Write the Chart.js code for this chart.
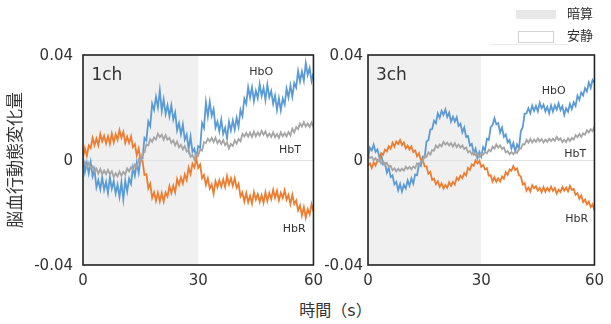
<!DOCTYPE html>
<html lang="ja">
<head>
<meta charset="utf-8">
<title>脳血行動態変化量</title>
<script src="https://cdn.jsdelivr.net/npm/chart.js@4.4.0/dist/chart.umd.min.js"></script>
<style>
	body { margin: 0; width: 611px; height: 324px; background: #fff; position: relative; overflow: hidden;
		font-family: 'DejaVu Sans', 'Noto Sans CJK JP', sans-serif; color: #333; }
	#c1 { position: absolute; left: 0; top: 0; }
	#c2 { position: absolute; left: 316px; top: 0; }
	.swatch { position: absolute; box-sizing: border-box; }
	.legend-text { position: absolute; left: 567px; font-size: 13px; line-height: 14px; }
	#xtitle { position: absolute; left: 275px; width: 121px; top: 302px; text-align: center; font-size: 16px; line-height: 18px; }
</style>
</head>
<body>
<canvas id="c1" width="330" height="300"></canvas>
<canvas id="c2" width="295" height="300"></canvas>

<div class="swatch" style="left:516px;top:10px;width:40px;height:9px;background:#e8e8e8"></div>
<div class="legend-text" style="top:7px">暗算</div>
<div class="swatch" style="left:518px;top:31px;width:36px;height:12px;border:1px solid #d4d4d4;background:#fff"></div>
<div class="legend-text" style="top:29px">安静</div>
<div class="swatch" style="left:490px;top:44px;width:78px;height:1px;background:#ececec"></div>
<div id="xtitle">時間（s）</div>

<script>
// time axis (s), sampled every 0.5 s
const times = [
	0,0.5,1,1.5,2,2.5,3,3.5,4,4.5,5,5.5,6,6.5,7,7.5,8,8.5,9,9.5,
	10,10.5,11,11.5,12,12.5,13,13.5,14,14.5,15,15.5,16,16.5,17,17.5,18,18.5,19,19.5,
	20,20.5,21,21.5,22,22.5,23,23.5,24,24.5,25,25.5,26,26.5,27,27.5,28,28.5,29,29.5,
	30,30.5,31,31.5,32,32.5,33,33.5,34,34.5,35,35.5,36,36.5,37,37.5,38,38.5,39,39.5,
	40,40.5,41,41.5,42,42.5,43,43.5,44,44.5,45,45.5,46,46.5,47,47.5,48,48.5,49,49.5,
	50,50.5,51,51.5,52,52.5,53,53.5,54,54.5,55,55.5,56,56.5,57,57.5,58,58.5,59,59.5,
	60
];

// values below are in units of 10^-3
const UNIT = 0.001;

// 1ch
const hbo1 = [
	1.1,-4.6,-1.1,-5.1,-0.8,-6.2,-3.6,-10.4,-7.7,-11.2,-6.6,-11.4,-8.3,-12.6,-6.6,-10.9,-8,-12.7,-9.4,-14.1,
	-8.5,-15,-7.9,-12,-7.1,-9.1,-2.8,-6,-1.1,-4.9,0.8,0.6,8.4,7.4,14.7,12.9,21.4,19.1,24,20.1,
	26.5,18.7,23.1,17.5,20.9,16.6,20.8,15.4,18.1,11.3,14,9.7,13.5,7.7,9.7,4.2,8.9,3.1,4.3,0.6,
	5.3,4.7,14.1,12.2,22,16.6,22.2,16.8,19.4,12.3,14.6,10.9,15.4,9.9,12.3,8.3,14.6,11.2,15,11.6,
	16.1,12.7,19.1,16.7,23.4,21.4,27.8,23.8,27.7,22.4,26.4,23.5,28.9,24.4,27.5,22.9,28.7,23.9,26.3,21.4,
	24.5,19.1,23.5,18.9,23.4,21.1,27.2,23.8,28.4,24.1,29.3,27.6,33.9,29.9,33.7,30.2,36.9,32.4,35,30.1,
	33.1
];
const hbr1 = [
	0.9,4.5,1.6,5.5,4.5,8.4,5.6,8.2,5.6,9.9,7.1,9.2,6.3,9,6.1,10,6.7,9.8,7.7,11.4,
	8.5,10.7,6.5,8.9,6.5,9,4.9,6,1.8,4.4,-0.2,-0.4,-5.7,-5.4,-10.8,-9,-14.4,-12.3,-15.6,-12.5,
	-15.8,-12.6,-15.8,-12.4,-13.9,-10,-12.6,-9.8,-12.3,-7.3,-9.5,-6.7,-9,-5.5,-7.6,-2.9,-5.4,-1.4,-2.8,0.4,
	-3,-1.7,-6.9,-5.7,-9.5,-6.9,-10.9,-9.3,-12.9,-8.1,-10.4,-7.7,-10.2,-7.4,-10.3,-6.1,-9.3,-6.9,-9.8,-6.9,
	-10.6,-9,-13.9,-12.4,-15.8,-12.6,-16.1,-13.7,-16.6,-12.2,-15.1,-13,-16,-13.4,-16.3,-12.3,-15.6,-12.6,-14.9,-11.4,
	-14.4,-11.7,-15.4,-12.5,-14.5,-11.5,-15.1,-13.3,-16.8,-13.2,-16.8,-15.4,-19.2,-17.3,-21.1,-17.9,-22,-18.7,-20.7,-16.9,
	-19.6
];
const hbt1 = [
	-1.5,-0.8,-2.8,-1.1,-3.1,-2.4,-4.3,-3.3,-5.2,-3.4,-5.4,-4,-5.4,-3.8,-5.4,-4.3,-6.5,-5.1,-6.2,-4.4,
	-6,-4.5,-5.6,-3.2,-4.3,-2.7,-3.7,-1.7,-2.7,0.3,-0.6,2.5,2.9,5.9,5.6,7.9,6.9,8.6,7.8,10,
	8.7,9.6,7.7,9.5,7.7,8.4,6.5,7.5,5.6,7.1,4.8,5.8,4.1,5.3,3.2,3.8,1.2,1.9,0.2,2.6,
	1.7,4,3.6,6.8,6.5,8.1,7.1,8.4,6.8,8.5,6.4,7.6,6.1,7.6,5.7,6.7,4.4,6.1,5.3,7.5,
	6.2,8,7.1,9.9,9,10.3,8.9,10.4,8.8,10.8,9,10.5,9.3,11.1,9.6,10.9,8.9,10.1,8.8,10.5,
	8.7,9.9,8.4,10.5,9,10.3,9,10.7,9.4,11.9,10.5,12.5,11.8,13.9,12.7,14.4,12.7,13.9,12.6,14.3,
	12.5
];

// 3ch
const hbo3 = [
	0.7,4.7,3.6,5.8,3.1,4,1.2,2.2,-1.7,-1.2,-4.8,-2.9,-6.5,-5.9,-9.3,-8.3,-11.5,-9.1,-12,-9.4,
	-10.8,-7.8,-9.8,-7,-9,-5.5,-5.8,-1.6,-2.3,1.3,0.9,7,7.5,11.6,11.8,15,14,17.8,16.1,18.7,
	17.2,19.3,16.4,18,14.6,16.5,14.6,16.3,13,13.8,10.5,12.4,8.8,9.1,5.5,6.1,2.5,4.3,0.8,3.1,
	1.3,4.9,3.6,8.1,7.6,12.4,13.3,15.9,13.6,14,10.5,12.4,8.8,9.7,6.7,7.6,4.4,6.5,3.3,5.9,
	4.5,11,12.5,17.6,17.8,19.7,17.8,20.7,18.7,20.6,18.5,21.8,19.7,21.1,18.5,20.2,17.8,20.8,18.4,20.8,
	19.2,21.6,19,20.5,17.2,19.7,18.4,21.4,19.4,22,20.6,24.5,22.9,25.7,24.6,27.4,26.1,29.5,27.5,30.5,
	29.4
];
const hbr3 = [
	-2,-1.3,-3,-0.9,-2.1,0,-0.5,2.6,2,4,3.3,5.3,4.3,6.6,5.1,7,6.1,7.6,5.7,6.7,
	4.4,5.5,4,5.2,3,3.6,1.4,2.6,0.1,0.1,-2.4,-2.4,-5.2,-4.5,-7.6,-7.1,-9.2,-8.1,-10.2,-8.9,
	-10.9,-9.5,-10.6,-8.5,-9.8,-8.3,-9.4,-6.7,-7.6,-6,-6.9,-5,-5.9,-3,-3.8,-1.7,-2.2,-0.1,-1.3,-0.3,
	-2.6,-1.9,-3.6,-3.1,-6,-5.8,-8.2,-6.5,-8.3,-7,-8.2,-6.3,-7.2,-4.6,-5.7,-3.6,-4.1,-2.3,-3.8,-3.2,
	-5.8,-6.3,-9.3,-8.8,-11.7,-10.5,-12,-9.6,-10.8,-10,-11.7,-10.6,-12.3,-10.3,-12.1,-10.6,-11.8,-10.2,-11.8,-10.7,
	-12.8,-11.3,-12.2,-10.3,-11.7,-10.5,-12,-9.9,-11.4,-11,-13.3,-12.6,-14.8,-13.5,-16,-15.1,-16.9,-15.8,-17.9,-16.9,
	-19.2
];
const hbt3 = [
	1.8,0.7,1.2,0,0.7,-0.7,0.3,-1.3,-0.5,-1.9,-1.1,-2.6,-2.2,-3.9,-3.2,-4.3,-3.3,-4.2,-3.3,-4.1,
	-2.6,-3.4,-2.6,-3.5,-2.5,-3.1,-1.3,-2.1,-0.5,-0.6,1.5,1.2,2.9,2.1,3.8,3.6,5.5,4.7,5.9,5.2,
	6.9,5.9,6.6,5.5,6.4,5.1,6.4,4.9,5.9,4.7,5.6,4.2,4.8,2.9,3.4,2.2,3,1.8,2.4,1.2,
	2.5,2,3.1,2.5,3.9,3.3,5.1,4.3,5.9,4.7,5.6,4.2,4.8,2.9,3.4,2.2,3,2.2,3.3,2.7,
	4.4,4.3,6,5.9,7.7,6.6,8,6.7,7.8,6.9,8.2,7.1,8,6.7,7.8,6.9,8.1,7.2,8.1,7.3,
	8.8,7.6,8.2,6.9,7.7,6.8,8.3,7.2,8.4,7.8,9.5,8.7,9.9,8.8,10.2,9.7,11.3,10.5,11.7,11,
	12.7
];

const xTicks = [0, 30, 60];
const yTicks = [-0.04, 0, 0.04];
const yTickLabels = ['-0.04', '0', '0.04'];
const taskRange = [0, 30];   // 暗算 period

const FONT = "'DejaVu Sans', 'Noto Sans CJK JP', sans-serif";
const BLUE = '#5b9bd5', ORANGE = '#ed7d31', GRAY = '#a5a5a5';

function toPoints(series) {
	return times.map((t, i) => ({ x: t, y: series[i] * UNIT }));
}

// shading for the task period, frame and in-plot labels
const panelPlugin = {
	id: 'panel',
	beforeDraw(chart) {
		const { ctx, chartArea: a, scales: { x } } = chart;
		const x0 = x.getPixelForValue(taskRange[0]);
		const x1 = x.getPixelForValue(taskRange[1]);
		ctx.save();
		ctx.fillStyle = '#f0f0f0';
		ctx.fillRect(x0, a.top, x1 - x0, a.bottom - a.top);
		ctx.restore();
	},
	afterDraw(chart, args, opts) {
		const { ctx, chartArea: a, scales: { x, y } } = chart;
		ctx.save();
		ctx.strokeStyle = '#222';
		ctx.lineWidth = 1.6;
		ctx.strokeRect(a.left, a.top, a.right - a.left, a.bottom - a.top);
		ctx.fillStyle = '#333';
		(opts.labels || []).forEach(l => {
			ctx.font = l.size + 'px ' + FONT;
			ctx.textAlign = l.align;
			ctx.textBaseline = 'middle';
			ctx.fillText(l.text, x.getPixelForValue(l.x), y.getPixelForValue(l.y));
		});
		ctx.restore();
	}
};

function makeChart(id, hbo, hbr, hbt, cfg) {
	const ctx = document.getElementById(id).getContext('2d');
	return new Chart(ctx, {
		type: 'line',
		data: {
			datasets: [{
				label: 'HbT', data: toPoints(hbt), borderColor: GRAY
			}, {
				label: 'HbR', data: toPoints(hbr), borderColor: ORANGE
			}, {
				label: 'HbO', data: toPoints(hbo), borderColor: BLUE
			}]
		},
		options: {
			responsive: false,
			animation: false,
			devicePixelRatio: 1,
			layout: { padding: { left: 0, top: 55, right: cfg.right, bottom: 0 } },
			elements: {
				point: { radius: 0 },
				line: { borderWidth: 1.8, tension: 0 }
			},
			plugins: {
				legend: { display: false },
				tooltip: { enabled: false },
				panel: { labels: cfg.labels }
			},
			scales: {
				x: {
					type: 'linear', min: 0, max: 60,
					afterBuildTicks: axis => { axis.ticks = xTicks.map(v => ({ value: v })); },
					afterFit: scale => { scale.height = 35; },
					grid: { display: false, drawTicks: false },
					border: { display: false },
					ticks: { color: '#333', font: { family: FONT, size: 15 }, padding: 7, maxRotation: 0 }
				},
				y: {
					min: -0.04, max: 0.04,
					afterBuildTicks: axis => { axis.ticks = yTicks.map(v => ({ value: v })); },
					afterFit: scale => { scale.width = cfg.yWidth; },
					grid: {
						drawTicks: false,
						color: c => (c.tick && c.tick.value === 0) ? '#e2e2e2' : 'rgba(0,0,0,0)'
					},
					border: { display: false },
					ticks: {
						color: '#333', font: { family: FONT, size: 15 }, padding: cfg.tickPad, labelOffset: 1,
						callback: v => yTickLabels[yTicks.indexOf(v)]
					},
					title: {
						display: cfg.yTitle,
						text: '脳血行動態変化量',
						color: '#333',
						font: { family: FONT, size: 17 },
						padding: { top: 6, bottom: 0 }
					}
				}
			}
		},
		plugins: [panelPlugin]
	});
}

makeChart('c1', hbo1, hbr1, hbt1, {
	right: 15, yWidth: 83, tickPad: 10, yTitle: true,
	labels: [
		{ text: '1ch', x: 2.2, y: 0.032, size: 17, align: 'left' },
		{ text: 'HbO', x: 46.4, y: 0.0335, size: 11, align: 'center' },
		{ text: 'HbT', x: 53.9, y: 0.0038, size: 11, align: 'center' },
		{ text: 'HbR', x: 55, y: -0.0262, size: 11, align: 'center' }
	]
});

makeChart('c2', hbo3, hbr3, hbt3, {
	right: 12, yWidth: 52, tickPad: 5, yTitle: false,
	labels: [
		{ text: '3ch', x: 2.1, y: 0.032, size: 17, align: 'left' },
		{ text: 'HbO', x: 49.2, y: 0.0262, size: 11, align: 'center' },
		{ text: 'HbT', x: 54.9, y: 0.0021, size: 11, align: 'center' },
		{ text: 'HbR', x: 55.3, y: -0.0224, size: 11, align: 'center' }
	]
});
</script>
</body>
</html>
